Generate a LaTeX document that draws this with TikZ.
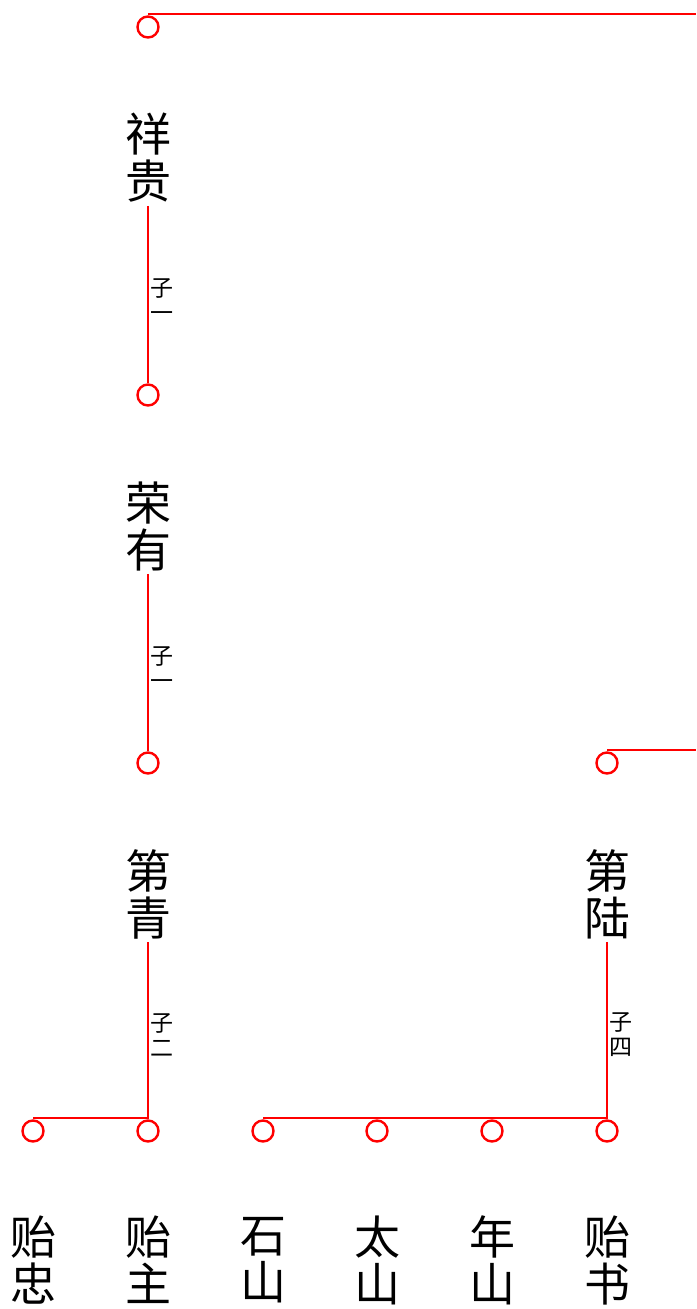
\documentclass[tikz,border=0pt]{standalone}
\usepackage{fontspec}
\newfontfamily\cjk{Noto Sans CJK SC}
\begin{document}
\begin{tikzpicture}[x=1pt, y=-1pt,
    link/.style = {red, line width=2.8pt},
    ring/.style = {circle, draw=red, line width=2.4pt, minimum size=21pt, inner sep=0pt},
    person/.style = {align=center, inner sep=3pt, font=\cjk\fontsize{46}{47}\selectfont},
    kin/.style = {text=black, align=center, inner sep=1pt, yshift=-5pt, font=\cjk\fontsize{23}{25}\selectfont}]
  \useasboundingbox (0, 0) rectangle (696, 1309);
  % circles
  \node [ring] (r1) at (148, 27) {};
  \node [ring] (r2) at (148, 395) {};
  \node [ring] (r3) at (148, 763) {};
  \node [ring] (r4) at (607, 763) {};
  \foreach \x [count=\i] in {33, 148, 263, 377, 492, 607}
    \node [ring] (b\i) at (\x, 1131) {};
  % names
  \node [person] (n1) at (148, 158) {祥\\贵};
  \node [person] (n2) at (148, 526) {荣\\有};
  \node [person] (n3) at (148, 894) {第\\青};
  \node [person] (n4) at (607, 894) {第\\陆};
  \foreach \x/\txt [count=\i] in {33/贻\\忠, 148/贻\\主, 263/石\\山, 377/太\\山, 492/年\\山, 607/贻\\书}
    \node [person] (m\i) at (\x, 1260) {\txt};
  % lines
  \coordinate (t1) at (148, 14);
  \coordinate (t2) at (696, 14);
  \coordinate (t3) at (607, 750);
  \coordinate (t4) at (696, 750);
  \coordinate (j0) at (33, 1118);
  \coordinate (j3) at (148, 1118);
  \coordinate (j4) at (607, 1118);
  \coordinate (j5) at (263, 1118);
  \draw [link] (t1) -- (t2);
  \draw [link] (t3) -- (t4);
  \draw [link] (n1) -- node [kin, right] {子\\一} (r2);
  \draw [link] (n2) -- node [kin, right] {子\\一} (r3);
  \draw [link] (n3) -- node [kin, right] {子\\二} (j3) -- (j0);
  \draw [link] (n4) -- node [kin, right] {子\\四} (j4) -- (j5);
\end{tikzpicture}
\end{document}
